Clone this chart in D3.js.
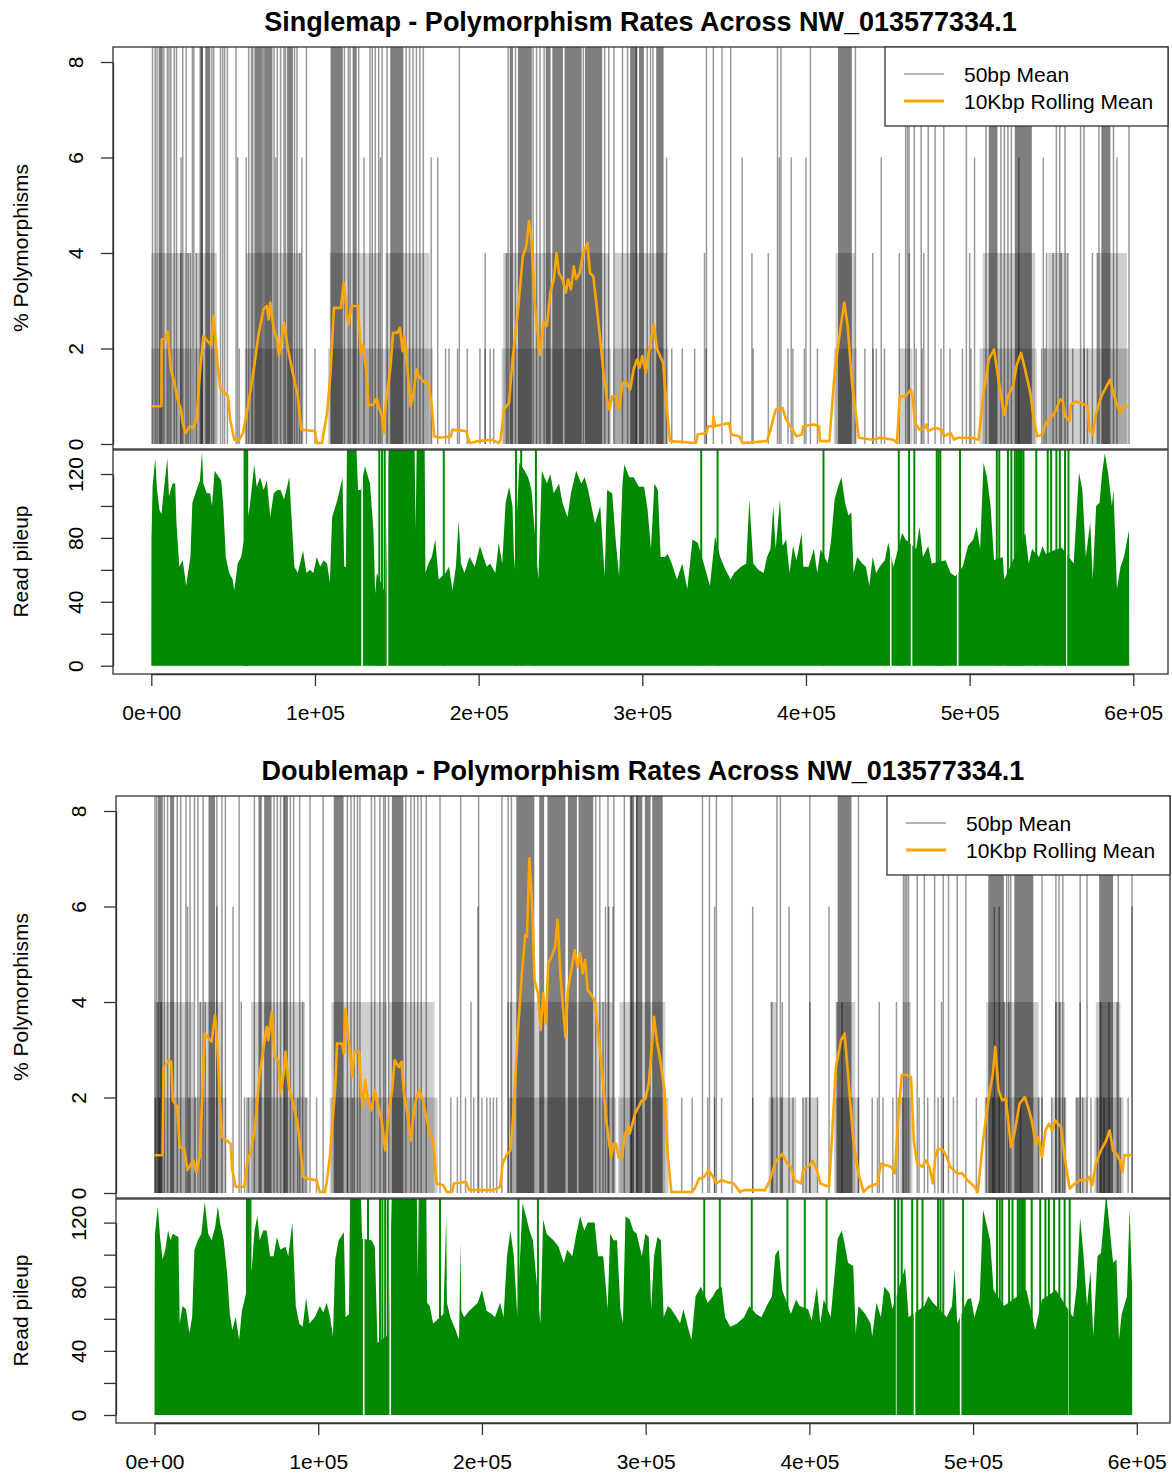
<!DOCTYPE html>
<html>
<head>
<meta charset="utf-8">
<script src="https://cdn.jsdelivr.net/npm/d3@7"></script>
<style>
body { margin: 0; background: #fff; }
text { font-family: "Liberation Sans", Arial, Helvetica, sans-serif; fill: #000; }
</style>
</head>
<body>
<svg id="chart" width="1172" height="1477"></svg>
<script>
// ---- axis ticks ----
var xTicks = [0, 100, 200, 300, 400, 500, 600];          // kbp
var xTickLabels = ["0e+00", "1e+05", "2e+05", "3e+05", "4e+05", "5e+05", "6e+05"];
var polyTicks = [0, 2, 4, 6, 8];
var pileTicks = [0, 20, 40, 60, 80, 100, 120];
var pileTickLabels = ["0", "", "40", "", "80", "", "120"];
var legendLabels = ["50bp Mean", "10Kbp Rolling Mean"];

// ---- Singlemap: 50bp mean (grey) ----
// saturated stretches [startKbp, endKbp, topPct]
var single50Bands = [
  [4.5,7,10],[29.5,31.5,10],[33,36,10],[63,68,10],[69,74,10],[83,86.5,10],[109.5,117,10],[123,125.5,10],
  [146,154,10],[219,221,10],[224,232.5,10],[241,244,10],[245,251.5,10],[252.5,263,10],[265,275.5,10],
  [292.6,297,10],[298,301,10],[308.5,313,10],[419.6,428,10],[511.7,517,10],[527.6,538,10],[580.5,586,10],
  [0,24,4],[27,40,4],[58,92,4],[109,140,4],[143,170,4],[215,280,4],[283,315,4],[418,430,4],[508,540,4],
  [548,560,4],[578,596,4],
  [0,25,2],[26,41,2],[57,93,2],[108,142,2],[142,172,2],[214,281,2],[282,316,2],[417,431,2],[457,465,2],
  [506,541,2],[545,597,2]
];
var single50Top = [0.75,2.4,3.5,7.7,9.8,10.8,11.9,14,15.4,19.2,21.3,25.1,26,31,37,38.1,42.3,43.6,44.8,46.5,
  51.8,59.5,61.2,62,68.5,75,77,79,81.1,82,87.5,89,94.8,118,120.4,121.5,126.7,133.6,135,136.8,138.9,141,144.1,
  155.7,157.8,159.9,162,164.1,166.2,188.2,218,222.5,233.3,235.4,237.5,240,264,277,279.5,282.7,287.9,291,
  296.3,303,305,306.5,339.2,343.4,348.7,354,382.6,384.7,402.7,430.2,460.9,462,463,466.2,470.4,474.7,478.9,
  484.2,498,510,519.1,521.2,523.4,525.5,553,555.1,558.3,567.8,569.9,579,587.9,597.4];
var single50Six = [18.2,52.8,58,76,92,130,140,171,175,314.8,361,383.7,391,400,446,503,530,545,590];
var single50Four = [18,22.5,24,27.5,90.6,204,217,338,367,377,440.8,457,463,472,500,547,551,556,560,575,578];
var single50Two = [53.8,100,179.8,181.9,187.1,193,200.8,204,207,209.2,318,324.4,332,339,367.7,389,392,399,407,
  436,441,443,448,467.3,471,482.5,488,495.6,500.8,544,546,563,570,572];

// ---- Singlemap: 10Kbp rolling mean [kbp, pct] ----
var singleRoll = [[0.3,0.79],[6.2,0.79],[6.3,2.19],[8.5,2.2],[10,2.36],[11.9,1.56],[14,1.3],[16.1,0.93],[18,0.75],
  [19.2,0.44],[20.9,0.23],[23.5,0.37],[25.6,0.34],[27.6,0.51],[29.7,1.49],[31.8,2.26],[34.5,2.15],[36.4,2.08],
  [38.1,2.68],[40.2,1.77],[42.3,1.14],[45,1.07],[46.9,1.0],[48.2,0.51],[50.7,0.09],[53.9,0.09],[56,0.23],
  [59.1,0.79],[62.3,1.49],[65.4,2.26],[68.5,2.82],[70.6,2.89],[71.7,2.61],[72.7,2.96],[74.8,2.4],[76.9,2.19],
  [78,1.84],[79.6,2.2],[81.1,2.54],[83.2,2.05],[86.4,1.49],[89.5,1.0],[91.6,0.3],[100,0.27],[101.1,0.02],
  [104.2,0.02],[105.3,0.23],[107.4,0.65],[109.5,1.49],[111.6,2.85],[115.8,2.85],[117.5,3.38],[119.1,2.89],
  [120.4,2.5],[122.5,2.89],[126.3,2.89],[128,1.91],[129.4,2.08],[131.5,1.49],[132.6,0.82],[135.7,0.82],
  [137.8,0.96],[138.9,0.79],[141,0.58],[142,0.23],[143.1,0.79],[146.2,1.63],[147.7,2.33],[150.4,2.33],
  [151.9,2.43],[153.6,1.94],[154.6,2.26],[156.7,1.49],[158.4,0.79],[160.3,1.07],[162,1.56],[163.6,1.42],
  [166.2,1.31],[169.3,1.28],[171.4,0.79],[172.9,0.16],[176.6,0.13],[183,0.16],[184,0.3],[192.4,0.27],
  [194.5,0.02],[199.7,0.06],[208.1,0.09],[212.3,0.02],[213.4,0.09],[215.5,0.72],[218.6,0.86],[220.7,1.77],
  [223.9,2.75],[227,3.93],[229.1,4.14],[230.8,4.67],[232.3,4.28],[234.4,2.89],[237.5,1.87],[239.6,2.54],
  [241.7,2.47],[243.8,3.17],[245.9,3.45],[247.6,4.0],[249.1,3.58],[251.2,3.45],[253.3,3.17],[254.7,3.45],
  [256.4,3.24],[258.1,3.72],[259.6,3.45],[261.7,3.58],[263.8,4.0],[266.5,4.21],[268,3.58],[270.1,3.51],
  [272.1,2.89],[274.3,2.19],[276.3,1.49],[278.5,0.93],[279.9,0.72],[281.6,1.0],[283.7,1.0],[285.8,0.72],
  [287.9,1.28],[290,1.3],[292.6,1.14],[294.7,1.56],[296.8,1.77],[298.4,1.6],[300,1.84],[302.1,1.49],
  [304.2,1.98],[307,2.5],[309.1,1.98],[312.7,1.7],[314.8,0.79],[317,0.06],[332.8,0.02],[333.9,0.2],
  [339.2,0.23],[340.2,0.37],[343,0.37],[343.4,0.58],[344.5,0.37],[348.7,0.41],[352.9,0.44],[354.4,0.2],
  [359.3,0.16],[361.4,0.02],[376.2,0.06],[378.3,0.3],[381.5,0.72],[385.7,0.75],[387.9,0.51],[391,0.34],
  [394.2,0.16],[397.4,0.2],[398.4,0.37],[404.8,0.41],[408,0.37],[408.6,0.06],[414.3,0.06],[417.5,1.49],
  [420.7,2.33],[423.4,2.96],[425.5,2.47],[428.1,1.28],[432.3,0.13],[440.8,0.09],[445,0.13],[453.5,0.09],
  [455.6,0.02],[457.3,1.0],[460.9,1.0],[464.1,1.14],[465.1,1.0],[466.6,0.44],[469.4,0.3],[472.5,0.34],
  [473.6,0.41],[474.7,0.27],[478.9,0.34],[483.1,0.3],[484.2,0.16],[488.4,0.23],[490.5,0.09],[492.7,0.13],
  [501.1,0.13],[505.4,0.09],[508.5,1.07],[511.7,1.77],[514.9,1.98],[517,1.49],[520.2,0.79],[521.2,0.61],
  [523.4,1.0],[526.5,1.21],[528.6,1.63],[531.4,1.91],[533.9,1.56],[537.1,1.07],[539.2,0.51],[541.3,0.16],
  [544.5,0.2],[546.6,0.44],[549.8,0.55],[553,0.72],[555.1,0.93],[556.8,0.93],[558.3,0.58],[561,0.48],
  [561.9,0.82],[564.6,0.89],[567.8,0.86],[572.1,0.79],[573.1,0.3],[575.2,0.2],[577.3,0.65],[580.5,1.0],
  [583.7,1.21],[585.8,1.35],[587.9,1.07],[590,0.82],[592.2,0.65],[593.2,0.79],[597.4,0.79]];

// ---- Singlemap: read pileup [kbp, depth] ----
var singlePile = [[0,0],[0.1,79],[0.8,112],[2.4,130],[3.5,110],[5,97.5],[6.2,95],[7.7,110],[9.8,130],[10.8,106],
  [13,114],[14.6,114],[15.4,89],[17.1,62],[19.2,66],[21.3,50],[22.4,58],[23.9,68],[25.1,102],[27.6,110],
  [29.7,116],[31,134],[31.8,114],[33.9,108],[36,108],[37.1,100],[38.7,122],[41.3,118],[42.7,116],[44,100],
  [45.5,68],[47.6,58],[49.7,54],[50.7,47],[52.8,64],[54.9,68],[60.2,100],[62.9,126],[64.4,112],[66.5,118],
  [68.6,110],[70.6,116],[72.7,93],[74.8,108],[77,110],[79,110],[81.1,104],[84.3,118],[85.3,100],[87.4,62],
  [89.5,58],[92.7,72],[94.8,58],[96.9,60],[99,58],[101.1,68],[103.2,62],[105.3,66],[107.4,64],[109.1,52],
  [110.5,93],[112.6,100],[114.7,108],[116.8,118],[117.9,62],[118.9,62],[119.6,140],[125.2,140],[126.3,110],
  [128,110],[130.5,125],[133.6,114],[135.7,85],[136.8,45],[137.8,58],[143.1,45],[145,140],[160.8,140],
  [161.5,85],[162.2,140],[167,140],[167.5,58],[169.3,64],[171.4,68],[173.5,79],[175.6,54],[179.8,58],
  [181.9,62],[184,47],[186.1,62],[187.8,91],[189.2,64],[191.3,58],[194.5,68],[197.6,62],[200.8,75],[202.9,68],
  [205,62],[207.1,64],[210.2,58],[212.3,77],[214.4,64],[216.5,102],[218.6,112],[220.7,100],[221.8,60],
  [224.9,127],[228.1,122],[230.2,118],[232.3,110],[236.5,54],[238.6,122],[241.7,114],[243.8,120],[245.9,108],
  [249.1,114],[251.2,102],[254.3,93],[256.4,108],[259.6,122],[262.7,114],[264.8,118],[266.9,110],[271.1,89],
  [274.3,100],[277,56],[278.5,110],[281.6,108],[283.7,79],[285.8,56],[287.9,114],[289,126],[292.1,118],
  [294.7,118],[297.9,112],[301.1,112],[303.2,98],[305.3,73],[307.4,114],[309.5,110],[311.2,68],[313.8,68],
  [315.5,70],[318,64],[321.2,54],[324.4,64],[327.5,48],[330.7,79],[333.9,77],[338.1,62],[341.3,50],[344.5,81],
  [347.6,68],[350.8,60],[354,54],[356.1,58],[360.3,62],[363.5,64],[365.4,104],[367.8,64],[370.9,60],
  [374.1,58],[376.2,68],[378.3,73],[380,100],[381.5,73],[384.1,104],[385.7,75],[387.9,79],[390,58],[392.1,75],
  [394.2,66],[397.4,83],[398.4,62],[401.6,62],[404.8,73],[406.9,58],[409,73],[413.3,64],[415.4,79],
  [417.5,104],[419.6,112],[421.7,118],[423.9,102],[426,94],[427.7,96],[429.1,58],[431.3,68],[434.4,64],
  [436.6,62],[438.7,50],[440.8,68],[442.9,58],[445,62],[448.2,66],[450.3,77],[453.5,62],[458.8,83],[460.9,79],
  [467.3,73],[469.4,87],[471.5,68],[474.7,75],[476.8,64],[485.2,66],[488.4,58],[491.2,56],[495.8,62],[499,75],
  [502.2,79],[504.3,87],[506.4,73],[508.5,127],[510.6,118],[512.8,100],[514.9,66],[520.2,68],[521.2,54],
  [534,83],[536.1,64],[538.2,73],[542.4,68],[544.5,75],[546.6,70],[550.9,72],[556.2,74],[563.6,64],
  [566.8,121],[568.9,110],[571,68],[573.7,90],[575.2,54],[577.3,100],[579.4,102],[580.9,120],[582.6,133],
  [584.7,120],[586.9,100],[587.9,110],[590,48],[592.2,62],[594.3,68],[597.4,85],[597.5,0]];
var singleSpikes = [57,57.8,58.6,139.3,141,142.6,178.7,222.8,226,235,336,346,410.7,456.7,463,466.2,479.9,481,
  482.1,494.1,516.6,518.1,523.4,525.5,527.6,528.7,529.7,530.8,531.8,532.9,540.7,547.7,549.8,553,555.1,558.3,560.4];
var singleGaps = [128.8,144.3,451.8,464.5,492.7,559.3];

// ---- Doublemap: 50bp mean (grey) ----
var double50Bands = [
  [2,5,10],[9.5,12,10],[33,37,10],[63.5,65.5,10],[67,71.5,10],[79,81.5,10],[109.5,115.5,10],[145,152,10],
  [221,232,10],[235,238,10],[240,251,10],[252.5,258,10],[259,268,10],[290.3,293,10],[294,298,10],
  [299.5,303,10],[304,310.4,10],[417.3,425.7,10],[509.3,518.8,10],[525.2,536.8,10],[577,585.5,10],
  [0,9,4],[9,24,4],[27,42,4],[59,92,4],[108,142,4],[143,171,4],[218,280,4],[284,312,4],[376,380,4],
  [416,428,4],[457,462,4],[508,540,4],[550,556,4],[575,590,4],
  [0,26,2],[26,44,2],[57,94,2],[107,143,2],[143,173,2],[216,282,2],[283,314,2],[375,392,2],[396,405,2],
  [415,430,2],[455,463,2],[507,541,2],[548,557,2],[563,570,2],[574,592,2]
];
var double50Top = [0.3,1.3,6,8,13.9,16,19.2,21.7,24.4,26.5,29.7,38.1,41.2,43.3,51.7,61,73,75,77,79,83,85,88.7,
  95,103,117.8,120,122,124,125.5,132.5,134.5,137.7,140,141,143,153.5,156.6,158.7,160.8,162.9,166,174.4,187,
  198,212.2,216,218,269.5,272,277,280.6,287,291.4,294.7,334.7,339,343.2,352.7,380.2,382.3,400.3,430,457.5,
  458.5,459.5,460.6,465.9,470.2,476.5,481.8,485,490.3,495.6,520.5,521.7,523,542.1,550.6,552.5,554.8,565.4,
  569.6,588.7,597.1];
var double50Six = [20.2,38.1,48,197.5,275.5,277.5,280,342.1,365.4,387.6,412,513,516,597.1];
var double50Four = [2,4,28,31,53,90.5,193.3,216,217.5,274,377,383.5,400.3,417,420,442.7,453.2,480.7,519,522,
  550.6,553,565.4,578,583,588];
var double50Two = [0.5,3,21,25,55,56.5,57.5,87.5,92.5,99,118,121,181,185,190,195,200,203,205,207,209,322,328.4,
  337.9,342.1,346.4,365.4,377.5,383,390,396,398,405,425.9,430,438.4,441.6,445,451,454.3,457,467,472.3,478.6,
  481.8,488,502,508,512,529,540,542,548,556,563,564,567,572,576,580,590,594.7];

// ---- Doublemap: 10Kbp rolling mean ----
var doubleRoll = [[0,0.79],[4.9,0.79],[5.5,2.61],[8.7,2.78],[10.2,2.75],[11.2,1.94],[13.9,1.8],[15.4,0.96],
  [18.1,0.93],[20.2,0.48],[22.3,0.61],[23.8,0.68],[25.5,0.44],[27.6,0.75],[29.7,2.5],[30.7,3.34],[32.8,3.25],
  [34.9,3.17],[37,3.72],[38.1,3.27],[40.2,1.8],[41.2,1.17],[44.4,1.1],[46.5,1.03],[47.5,0.48],[49.6,0.13],
  [54.8,0.13],[56.9,0.68],[59,0.89],[61.1,1.31],[64.3,2.5],[67,3.13],[68.5,3.48],[69.5,3.2],[71.6,3.79],
  [73.3,2.85],[75.8,2.78],[76.9,2.08],[79,2.5],[80,2.96],[82.1,2.22],[84.2,1.94],[87.4,1.45],[89.5,0.82],
  [90.9,0.34],[93.7,0.3],[98.9,0.27],[101,0.02],[104.2,0.02],[105.2,0.23],[107.3,0.82],[110.4,2.22],
  [111.5,3.13],[114.6,3.13],[115.7,2.92],[116.7,3.86],[118.2,3.34],[120.9,2.43],[122,2.96],[125.1,2.96],
  [126.2,2.15],[127.2,1.8],[128.7,2.36],[130.4,1.94],[132.5,1.73],[134.6,2.15],[136.7,1.8],[138.8,1.52],
  [140.9,0.89],[143,1.66],[145.1,2.15],[146.7,2.78],[149.3,2.64],[150.9,2.75],[152.4,2.08],[154.5,1.66],
  [156.6,1.1],[158.7,1.8],[160.8,2.08],[161.8,2.15],[163.9,1.94],[166,1.59],[168.1,1.24],[170.2,1.1],
  [172.3,0.2],[176.5,0.16],[178.6,0.02],[181.8,0.02],[182.8,0.2],[190.2,0.23],[192.3,0.06],[205.9,0.06],
  [209,0.09],[211.1,0.13],[212.6,0.61],[215.3,0.82],[217.4,0.89],[219.5,1.8],[221.6,3.2],[224.4,4.6],
  [226.5,5.4],[227.5,5.37],[229,7.01],[230.7,6.0],[232.1,4.46],[234.2,4.18],[235.9,3.41],[237.4,4.18],
  [239.1,3.55],[240.5,4.81],[242.6,4.95],[244.7,5.16],[246.2,5.72],[247.9,4.6],[249.5,3.9],[251,3.27],
  [252.5,4.25],[254.2,4.6],[256.7,5.09],[258.4,4.74],[260,5.02],[261.5,4.6],[263,4.88],[264.6,4.25],
  [266.3,4.18],[268.8,4.04],[270.9,3.41],[273.5,2.5],[276.2,1.45],[278.9,0.75],[280.4,1.03],[281.9,1.03],
  [283.5,0.75],[285.6,0.75],[287.3,1.24],[289.8,1.38],[290.3,1.24],[293.5,1.66],[295.6,1.8],[297.7,1.94],
  [299.8,1.97],[301.9,2.29],[304.1,3.2],[305.1,3.69],[306.8,3.2],[308.9,2.78],[311.5,2.15],[313.6,0.75],
  [315.7,0.02],[328.4,0.02],[330.5,0.13],[332.6,0.3],[335.8,0.34],[338.5,0.48],[341.1,0.34],[343.2,0.2],
  [346.4,0.27],[349.5,0.23],[353.8,0.2],[357.6,0.02],[360.1,0.06],[372.8,0.06],[376,0.27],[379.2,0.65],
  [383.4,0.82],[386.6,0.61],[388.7,0.55],[390.8,0.27],[395,0.2],[396.1,0.48],[400.3,0.58],[402,0.68],
  [404.6,0.48],[406.7,0.2],[412,0.13],[413,0.68],[416.2,2.64],[419.4,3.2],[421.5,3.34],[423.6,2.5],
  [426.8,1.1],[430,0.41],[433.1,0.02],[436.3,0.13],[441.6,0.2],[443.7,0.61],[447,0.58],[450,0.55],
  [452.2,0.41],[454.3,1.59],[456.4,2.47],[459.6,2.47],[462.1,2.43],[463.8,1.1],[465.9,0.61],[469.1,0.55],
  [471.2,0.68],[473.3,0.55],[475.4,0.2],[476.9,0.75],[478.6,0.93],[481.8,0.89],[483.9,0.75],[486,0.55],
  [490.3,0.41],[493.4,0.41],[496.6,0.27],[500.8,0.13],[502.9,0.02],[506.1,1.1],[509.3,1.94],[512.1,2.5],
  [513.5,3.06],[515.6,2.15],[517.8,1.94],[519.9,1.98],[521,1.66],[523.1,0.96],[525.2,1.24],[528.4,1.87],
  [531.5,2.01],[533.6,1.8],[535.8,1.52],[538.3,1.03],[540,1.17],[542.1,0.75],[544.2,1.31],[546.3,1.45],
  [548.4,1.31],[550.1,1.52],[553.7,1.38],[555.9,0.75],[559,0.09],[562.2,0.2],[565.4,0.27],[569.6,0.27],
  [570.7,0.34],[572.8,0.16],[574.9,0.61],[578.1,0.89],[581.3,1.1],[583.4,1.31],[585.5,0.89],[587.6,0.82],
  [589.7,0.68],[591.2,0.44],[592.5,0.79],[597.1,0.79]];

// ---- Doublemap: read pileup ----
var doublePile = [[0,0],[0.1,78],[0.3,113],[2,130],[3.4,111],[4.9,97],[6.6,103],[8.3,115],[9.7,109],[11.2,113],
  [12.9,112],[14.6,111],[15.4,57],[17.1,68],[19.2,66],[21.3,51],[23,61],[24.4,103],[26.5,109],[28.6,113],
  [30.7,133],[32.8,113],[34.9,109],[37,117],[38.7,130],[40.2,119],[42.3,109],[44.4,88],[46,63],[47.5,53],
  [49.6,61],[51.7,47],[53.4,65],[54.8,71],[59.5,92],[61.1,115],[62.8,124],[64.3,109],[66.4,115],[68.5,115],
  [70.6,99],[72.7,99],[74.8,111],[76.9,103],[80,105],[81.7,99],[84.2,120],[86.3,68],[88.4,57],[90.5,55],
  [92.6,73],[94.7,57],[97.9,61],[101,68],[103.1,64],[105.2,70],[107.3,61],[109,49],[110.4,97],[112.5,109],
  [115.7,114],[116.7,61],[118.8,63],[119.5,140],[126,140],[126.8,110],[132.5,109],[134.6,105],[136.2,45],
  [143,50],[145,140],[160.2,140],[160.8,85],[161.4,140],[166,140],[166.5,70],[168.1,68],[170.2,57],[176.5,63],
  [178.2,124],[178.6,70],[180.7,61],[183.9,53],[186,47],[187,108],[187.4,65],[189.1,61],[192.3,65],[195.4,68],
  [197.5,70],[200,78],[202.8,65],[205.9,63],[208,61],[211.1,70],[213.2,61],[215.3,99],[217.4,115],[219.5,99],
  [221.6,61],[224.8,132],[226.9,124],[229,115],[231.1,109],[235.7,57],[237.4,122],[239.5,113],[241.6,111],
  [243.7,109],[246.8,105],[250,95],[252.1,103],[255.2,99],[257.3,111],[260,124],[262.5,115],[264.6,120],
  [268.8,120],[270.9,99],[274.1,99],[276.8,66],[278.3,113],[280.4,109],[282.5,109],[284.6,66],[286.1,57],
  [287.7,124],[290.3,122],[292.4,115],[294.5,113],[297.7,99],[299.8,113],[301.9,111],[303.4,66],[305.1,99],
  [307.2,111],[309.3,109],[311,61],[313.6,68],[315.7,66],[318.9,61],[321,57],[323.1,66],[326.3,53],[328,47],
  [330.5,74],[333.7,80],[337.9,70],[341.1,74],[343.2,78],[346.4,80],[348.5,61],[351.7,55],[355.9,57],
  [360.1,61],[363.3,68],[367.5,63],[370.7,61],[373.9,68],[377.1,74],[379.2,100],[381.3,103],[383.4,78],
  [388.7,63],[391.9,72],[394,68],[399.3,66],[401.4,59],[404.6,80],[406.7,57],[408.8,72],[413,61],[415.1,84],
  [417.3,110],[419.8,115],[421.5,107],[423.6,95],[426.8,93],[428.3,51],[430,68],[434.2,63],[437.4,57],
  [438.4,49],[441,70],[443.7,61],[445.8,80],[449,76],[450.7,66],[458.5,92],[460.6,61],[470.2,68],[472.7,74],
  [475.5,70],[483.9,61],[487.1,68],[488.8,91],[490.3,57],[496.6,72],[498.7,73],[500.8,61],[504,72],
  [506.1,128],[508.2,119],[510.4,109],[512.5,78],[518.8,68],[532.6,78],[534.7,68],[537.9,53],[542.1,72],
  [545.3,74],[550.6,78],[561.1,61],[563.3,80],[565.4,123],[567.5,99],[569.6,68],[571.7,90],[573.4,49],
  [576,99],[578.1,101],[579.8,120],[581.3,138],[583.4,117],[585.5,95],[587.6,97],[589.1,47],[590.8,63],
  [594,74],[595.6,129],[597.1,80],[597.2,0]];
var doubleSpikes = [56.5,57.6,58.6,130.4,137.7,139.2,140.9,142.5,174.4,222.3,234.2,335.8,345.3,364.8,386.6,
  397.2,410.5,452.2,454.3,456.4,462.8,465.9,469.1,478.6,480.1,481.8,493.9,514.6,516.3,517.8,522,524.1,527.3,
  528.4,529.4,530.5,531.5,535.8,541,544.2,546.3,549.5,552.7,555.9,559];
var doubleGaps = [127.8,144,452.8,464.2,492.4,558.6];

var svg = d3.select("#chart");

function drawPanel(id, p) {
    var g = svg.append("g");

    var x = d3.scaleLinear().domain([0, 600]).range([p.x0, p.x1]);
    var yPoly = d3.scaleLinear().domain([0, 8]).range([p.polyY0, p.polyY8]);
    var yPile = d3.scaleLinear().domain([0, 120]).range([p.pileY0, p.pileY120]);

    // clip regions
    var defs = g.append("defs");
    defs.append("clipPath").attr("id", id + "-cp").append("rect")
        .attr("x", p.left).attr("y", p.top).attr("width", p.right - p.left).attr("height", p.mid - p.top);
    defs.append("clipPath").attr("id", id + "-cr").append("rect")
        .attr("x", p.left).attr("y", p.mid + 1).attr("width", p.right - p.left).attr("height", p.bottom - p.mid - 1);

    // title
    g.append("text")
        .attr("x", (p.left + p.right) / 2).attr("y", p.titleY)
        .attr("text-anchor", "middle").attr("font-size", 27).attr("font-weight", "bold")
        .text(p.title);

    // ---- polymorphism plot ----
    var poly = g.append("g").attr("clip-path", "url(#" + id + "-cp)");

    poly.selectAll("rect.band").data(p.bands).enter().append("rect")
        .attr("class", "band")
        .attr("x", function (d) { return x(d[0]); })
        .attr("width", function (d) { return x(d[1]) - x(d[0]); })
        .attr("y", function (d) { return yPoly(d[2]); })
        .attr("height", function (d) { return yPoly(0) - yPoly(d[2]); })
        .attr("fill", "#000")
        .attr("fill-opacity", function (d) { return d[2] > 8 ? 0.5 : 0.19; });

    var lineSets = [[p.top10, 10], [p.six, 6], [p.four, 4], [p.two, 2]];
    lineSets.forEach(function (set) {
        poly.append("g").selectAll("line").data(set[0]).enter().append("line")
            .attr("x1", function (d) { return x(d); })
            .attr("x2", function (d) { return x(d); })
            .attr("y1", yPoly(0))
            .attr("y2", yPoly(set[1]))
            .attr("stroke", "#000")
            .attr("stroke-opacity", 0.4)
            .attr("stroke-width", 1.5);
    });

    var rollLine = d3.line()
        .x(function (d) { return x(d[0]); })
        .y(function (d) { return yPoly(d[1]); });
    poly.append("path")
        .datum(p.roll)
        .attr("d", rollLine)
        .attr("fill", "none")
        .attr("stroke", "#FFA500")
        .attr("stroke-width", 2.6)
        .attr("stroke-linejoin", "round");

    // ---- read pileup ----
    var pile = g.append("g").attr("clip-path", "url(#" + id + "-cr)");
    var area = d3.area()
        .x(function (d) { return x(d[0]); })
        .y0(yPile(0))
        .y1(function (d) { return yPile(d[1]); });
    pile.append("path").datum(p.pile).attr("d", area).attr("fill", "#008A00");

    pile.selectAll("line.gap").data(p.gaps).enter().append("line")
        .attr("class", "gap")
        .attr("x1", function (d) { return x(d); })
        .attr("x2", function (d) { return x(d); })
        .attr("y1", yPile(0) + 1)
        .attr("y2", yPile(140))
        .attr("stroke", "#fff")
        .attr("stroke-width", 1.6);

    pile.selectAll("line.spike").data(p.spikes).enter().append("line")
        .attr("class", "spike")
        .attr("x1", function (d) { return x(d); })
        .attr("x2", function (d) { return x(d); })
        .attr("y1", yPile(0))
        .attr("y2", yPile(140))
        .attr("stroke", "#008A00")
        .attr("stroke-width", 2);

    // ---- boxes ----
    g.append("rect")
        .attr("x", p.left).attr("y", p.top)
        .attr("width", p.right - p.left).attr("height", p.mid - p.top)
        .attr("fill", "none").attr("stroke", "#333").attr("stroke-width", 1.3);
    g.append("rect")
        .attr("x", p.left).attr("y", p.mid + 1)
        .attr("width", p.right - p.left).attr("height", p.bottom - p.mid - 1)
        .attr("fill", "none").attr("stroke", "#333").attr("stroke-width", 1.3);

    // ---- axes ----
    var xAxis = g.append("g")
        .attr("transform", "translate(0," + p.bottom + ")")
        .call(d3.axisBottom(x).tickValues(xTicks).tickSize(12).tickSizeOuter(0)
            .tickFormat(function (d, i) { return xTickLabels[i]; }));
    styleAxis(xAxis);
    xAxis.selectAll("text").attr("y", p.tickLabelBase - p.bottom).attr("dy", null);

    var yAxisPoly = g.append("g")
        .attr("transform", "translate(" + p.left + ",0)")
        .call(d3.axisLeft(yPoly).tickValues(polyTicks).tickSize(12).tickSizeOuter(0));
    styleAxis(yAxisPoly);
    rotateLabels(yAxisPoly);

    var yAxisPile = g.append("g")
        .attr("transform", "translate(" + p.left + ",0)")
        .call(d3.axisLeft(yPile).tickValues(pileTicks).tickSize(12).tickSizeOuter(0)
            .tickFormat(function (d, i) { return pileTickLabels[i]; }));
    styleAxis(yAxisPile);
    rotateLabels(yAxisPile);

    // axis titles
    g.append("text")
        .attr("transform", "translate(28," + (p.top + p.mid) / 2 + ") rotate(-90)")
        .attr("text-anchor", "middle").attr("font-size", 21)
        .text("% Polymorphisms");
    g.append("text")
        .attr("transform", "translate(28," + (p.mid + p.bottom) / 2 + ") rotate(-90)")
        .attr("text-anchor", "middle").attr("font-size", 21)
        .text("Read pileup");

    // ---- legend ----
    var lg = g.append("g").attr("transform", "translate(" + (p.right - 283) + "," + p.top + ")");
    lg.append("rect").attr("width", 283).attr("height", 79)
        .attr("fill", "#fff").attr("stroke", "#333").attr("stroke-width", 1.3);
    var legendStyles = [{ c: "#9a9a9a", w: 1.6 }, { c: "#FFA500", w: 3 }];
    legendLabels.forEach(function (lab, i) {
        var yy = 27 + i * 27;
        lg.append("line").attr("x1", 19).attr("x2", 59).attr("y1", yy).attr("y2", yy)
            .attr("stroke", legendStyles[i].c).attr("stroke-width", legendStyles[i].w);
        lg.append("text").attr("x", 79).attr("y", yy + 7.5).attr("font-size", 21).text(lab);
    });
}

function styleAxis(ax) {
    ax.attr("font-size", null).attr("font-family", null);
    ax.select(".domain").attr("stroke", "#333").attr("stroke-width", 1.3);
    ax.selectAll(".tick line").attr("stroke", "#333").attr("stroke-width", 1.3);
    ax.selectAll(".tick text").attr("font-size", 21).attr("fill", "#000");
}

function rotateLabels(ax) {
    ax.selectAll(".tick text")
        .attr("transform", "rotate(-90)")
        .attr("x", 0).attr("y", -30).attr("dy", null)
        .attr("text-anchor", "middle");
}

drawPanel("single", {
    title: "Singlemap - Polymorphism Rates Across NW_013577334.1",
    left: 113, right: 1168, top: 47, mid: 449, bottom: 674,
    x0: 151.3, x1: 1133.3, polyY0: 444, polyY8: 62, pileY0: 665.7, pileY120: 474,
    titleY: 31, tickLabelBase: 720,
    bands: single50Bands, top10: single50Top, six: single50Six, four: single50Four, two: single50Two,
    roll: singleRoll, pile: singlePile, spikes: singleSpikes, gaps: singleGaps
});

drawPanel("double", {
    title: "Doublemap - Polymorphism Rates Across NW_013577334.1",
    left: 116, right: 1170, top: 796, mid: 1198, bottom: 1423,
    x0: 154.5, x1: 1136.8, polyY0: 1193, polyY8: 811, pileY0: 1415, pileY120: 1222.6,
    titleY: 780, tickLabelBase: 1469,
    bands: double50Bands, top10: double50Top, six: double50Six, four: double50Four, two: double50Two,
    roll: doubleRoll, pile: doublePile, spikes: doubleSpikes, gaps: doubleGaps
});
</script>
</body>
</html>
